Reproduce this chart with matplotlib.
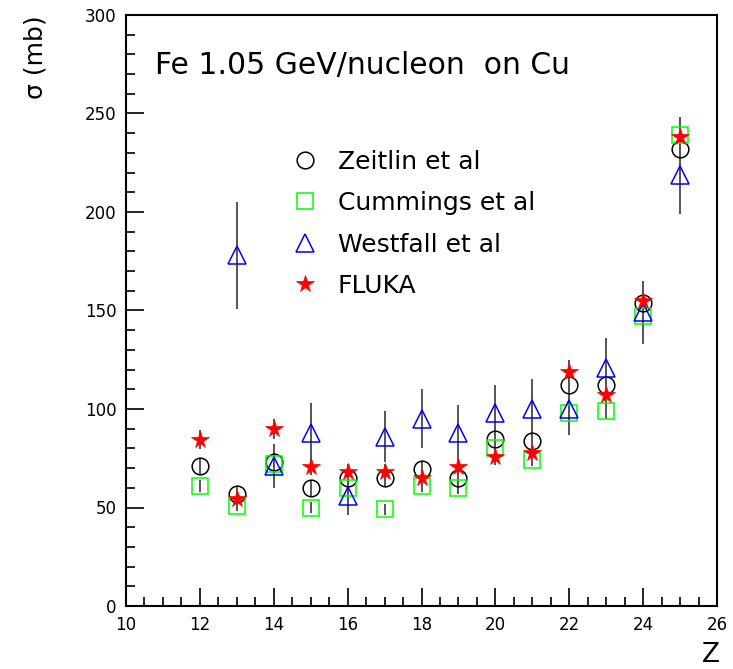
import matplotlib
matplotlib.use("Agg")
import matplotlib.pyplot as plt
import numpy as np

plt.rcParams["font.family"] = ["DejaVu Sans"]

# Zeitlin et al
z_zeit = [12, 13, 14, 15, 16, 17, 18, 19, 20, 21, 22, 23, 24, 25]
s_zeit = [71, 57, 73, 60, 65, 65, 69.5, 65, 85, 84, 112, 112, 154, 232]
e_zeit = [4, 4, 5, 4, 4, 4, 4, 4, 6, 7, 13, 8, 11, 16]

# Cummings et al
z_cumm = [12, 13, 14, 15, 16, 17, 18, 19, 20, 21, 22, 23, 24, 25]
s_cumm = [61, 51, 72, 50, 60, 49, 61, 60, 80, 74, 98, 99, 147, 239]
e_cumm = [3, 3, 3, 3, 3, 3, 3, 3, 4, 3, 4, 4, 5, 6]

# Westfall et al
z_west = [13, 14, 15, 16, 17, 18, 19, 20, 21, 22, 23, 24, 25]
s_west = [178, 71, 88, 56, 86, 95, 88, 98, 100, 100, 121, 149, 219]
e_west = [27, 11, 15, 10, 13, 15, 14, 14, 15, 13, 15, 16, 20]

# FLUKA
z_fluka = [12, 13, 14, 15, 16, 17, 18, 19, 20, 21, 22, 23, 24, 25]
s_fluka = [84.5, 54.5, 90, 70.5, 68, 68, 65, 70.5, 75.5, 77.5, 119, 107, 155, 238]
e_fluka = [5, 3, 5, 4, 4, 4, 4, 4, 4, 4, 6, 5, 7, 9]

fig = plt.figure(figsize=(7.33, 6.69), dpi=100)
ax = fig.add_axes([126 / 733, 63 / 669, 591 / 733, 591 / 669])

ebar = dict(fmt="none", ecolor="#555555", elinewidth=1.4, capsize=0, zorder=1)
ax.errorbar(z_zeit, s_zeit, yerr=e_zeit, **ebar)
ax.errorbar(z_cumm, s_cumm, yerr=e_cumm, **ebar)
ax.errorbar(z_west, s_west, yerr=e_west, **ebar)
ax.errorbar(z_fluka, s_fluka, yerr=e_fluka, **ebar)

ax.plot(z_zeit, s_zeit, "o", ms=12, mfc="none", mec="black", mew=1.1,
        ls="none", label="Zeitlin et al", zorder=3)
ax.plot(z_cumm, s_cumm, "s", ms=12, mfc="none", mec="#00ff00", mew=1.1,
        ls="none", label="Cummings et al", zorder=3)
ax.plot(z_west, s_west, "^", ms=13, mfc="none", mec="blue", mew=1.1,
        ls="none", label="Westfall et al", zorder=3)
ax.plot(z_fluka, s_fluka, "*", ms=13, mfc="red", mec="red", mew=0.5,
        ls="none", label="FLUKA", zorder=4)

ax.set_xlim(10, 26)
ax.set_ylim(0, 300)
ax.set_xticks(np.arange(10, 27, 2))
ax.set_xticks(np.arange(10, 26.1, 0.5), minor=True)
ax.set_yticks(np.arange(0, 301, 50))
ax.set_yticks(np.arange(0, 301, 10), minor=True)
ax.tick_params(which="both", direction="in", top=False, right=False,
               labelsize=12, width=1.2)
ax.tick_params(which="major", length=13, pad=7)
ax.tick_params(which="minor", length=6.5)
ax.tick_params(axis="y", pad=7)
for sp in ax.spines.values():
    sp.set_linewidth(1.5)

ax.text(0.049, 0.915, "Fe 1.05 GeV/nucleon  on Cu", transform=ax.transAxes,
        fontsize=21.5, va="center", ha="left")

fig.text(35 / 733, 1 - 15 / 669, "σ (mb)", rotation=90, fontsize=18,
         ha="center", va="top")
fig.text(711 / 733, 1 - 655 / 669, "Z", fontsize=19, ha="center", va="center")

ax.legend(loc="upper left", bbox_to_anchor=(0.265, 0.789), frameon=False,
          fontsize=18, labelspacing=0.7, handletextpad=0.8, borderaxespad=0,
          handlelength=1.0, numpoints=1)

fig.savefig("out.png", dpi=100)
